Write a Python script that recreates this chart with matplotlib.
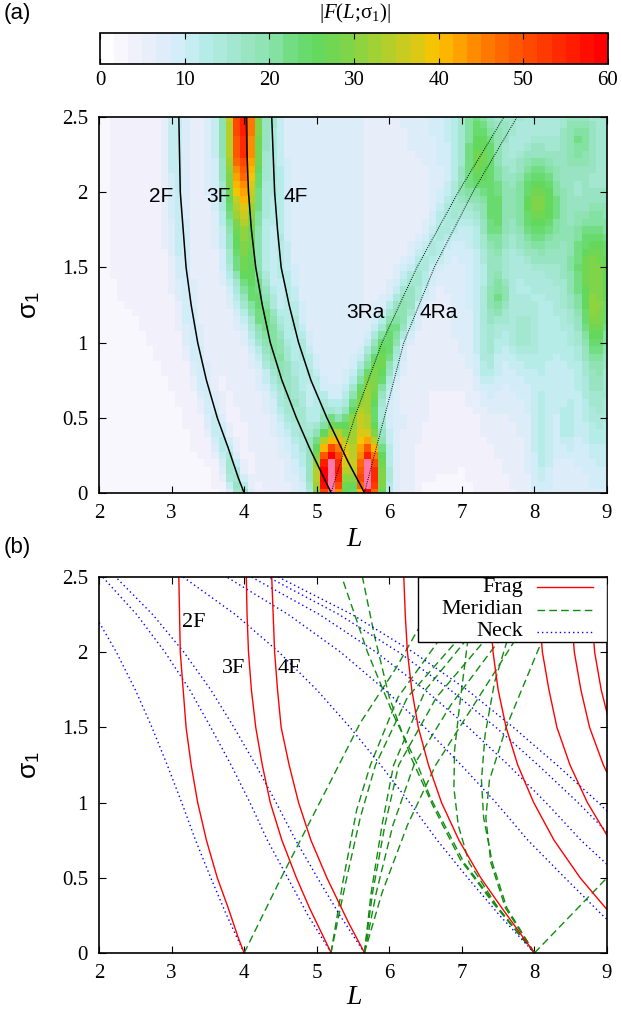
import numpy as np
import matplotlib.pyplot as plt
from matplotlib.colors import LinearSegmentedColormap, ListedColormap
from matplotlib.patches import Rectangle

SERIF = 'Liberation Serif'
SANS = 'Liberation Sans'
plt.rcParams['font.family'] = SERIF
plt.rcParams['mathtext.fontset'] = 'custom'
plt.rcParams['mathtext.rm'] = SERIF
plt.rcParams['mathtext.it'] = SERIF + ':italic'
plt.rcParams['mathtext.sf'] = SANS

# ---------------- orbit length curves L(sigma_1) ----------------
sig_f = [0, 0.1, 0.2, 0.3, 0.5, 0.75, 1.0, 1.25, 1.5, 1.75, 2.0, 2.25, 2.5]
frag_2F = [4.00, 3.92, 3.85, 3.78, 3.63, 3.48, 3.36, 3.27, 3.20, 3.16, 3.12, 3.11, 3.10]
frag_3F = [5.20, 5.10, 5.00, 4.90, 4.72, 4.52, 4.36, 4.25, 4.16, 4.10, 4.06, 4.04, 4.03]
frag_4F = [5.66, 5.55, 5.44, 5.34, 5.14, 4.92, 4.75, 4.62, 4.51, 4.46, 4.42, 4.40, 4.38]
frag_8 = [8.00, 7.85, 7.70, 7.55, 7.26, 6.96, 6.72, 6.54, 6.40, 6.31, 6.25, 6.22, 6.20]
frag_95 = [9.51, 9.33, 9.15, 8.98, 8.63, 8.27, 7.99, 7.77, 7.61, 7.50, 7.43, 7.39, 7.37]
frag_104 = [10.39, 10.19, 10.00, 9.81, 9.43, 9.04, 8.73, 8.49, 8.31, 8.20, 8.11, 8.07, 8.05]
frag_110 = [10.95, 10.74, 10.53, 10.34, 9.94, 9.53, 9.20, 8.95, 8.76, 8.64, 8.55, 8.51, 8.49]
frag_113 = [11.31, 11.10, 10.88, 10.68, 10.27, 9.84, 9.50, 9.24, 9.05, 8.92, 8.83, 8.79, 8.77]

sig_n = [0, 0.25, 0.5, 0.75, 1.0, 1.25, 1.5, 1.75, 2.0, 2.25, 2.5]
neck_4 = [4.00, 3.76, 3.54, 3.33, 3.14, 2.94, 2.73, 2.50, 2.24, 1.94, 1.58]
neck_52 = [5.20, 4.88, 4.60, 4.32, 4.08, 3.82, 3.54, 3.25, 2.91, 2.52, 2.05]
neck_57 = [5.66, 5.32, 5.01, 4.71, 4.44, 4.16, 3.86, 3.54, 3.17, 2.74, 2.23]
neck_8 = [8.00, 7.52, 7.08, 6.66, 6.28, 5.88, 5.46, 5.00, 4.48, 3.88, 3.16]
neck_95 = [9.51, 8.94, 8.42, 7.91, 7.47, 6.99, 6.49, 5.94, 5.33, 4.61, 3.76]
neck_104 = [10.39, 9.77, 9.20, 8.64, 8.16, 7.64, 7.09, 6.49, 5.82, 5.04, 4.10]
neck_110 = [10.95, 10.29, 9.69, 9.11, 8.60, 8.05, 7.47, 6.84, 6.13, 5.31, 4.33]
neck_113 = [11.31, 10.63, 10.01, 9.41, 8.88, 8.31, 7.71, 7.07, 6.33, 5.49, 4.47]

# meridian branches: (L values, sigma values)
meridian = [
    ([4.0, 4.51, 5.2, 5.6, 6.1, 6.43, 6.75], [0, 0.5, 1.15, 1.53, 1.9, 2.18, 2.5]),
    ([5.196, 5.40, 5.60, 5.81, 6.25, 6.92, 7.5], [0, 0.47, 0.9, 1.25, 1.7, 2.07, 2.35]),
    ([5.196, 5.36, 5.55, 5.74, 6.12, 6.67, 7.2], [0, 0.47, 0.95, 1.25, 1.7, 2.07, 2.4]),
    ([5.657, 5.75, 5.9, 6.06, 6.5, 7.04, 7.6], [0, 0.4, 0.85, 1.25, 1.75, 2.07, 2.5]),
    ([5.657, 5.77, 5.94, 6.13, 6.65, 7.3, 7.9], [0, 0.4, 0.85, 1.25, 1.7, 2.07, 2.5]),
    ([5.657, 5.82, 6.05, 6.34, 6.85, 7.5, 8.1], [0, 0.4, 0.85, 1.25, 1.65, 2.07, 2.5]),
    ([5.657, 5.9, 6.25, 6.64, 7.1, 7.72, 8.4], [0, 0.4, 0.85, 1.25, 1.6, 2.07, 2.5]),
    ([8.0, 7.62, 7.42, 7.3, 7.27, 7.32, 7.45, 7.62, 7.95], [0, 0.3, 0.6, 0.9, 1.15, 1.45, 1.8, 2.07, 2.5]),
    ([8.0, 7.6, 7.4, 7.33, 7.38, 7.61, 8.09, 8.5], [0, 0.3, 0.6, 0.9, 1.15, 1.5, 2.06, 2.5]),
    ([8.0, 7.5, 7.1, 6.95, 6.89, 6.9, 6.97, 7.08, 7.3], [0, 0.3, 0.6, 0.85, 1.1, 1.35, 1.65, 2.07, 2.5]),
    ([8.0, 7.5, 7.03, 6.57, 6.39, 6.06, 5.7, 5.36], [0, 0.3, 0.6, 1.03, 1.25, 1.58, 2.0, 2.48]),
    ([8.0, 7.45, 6.98, 6.6, 6.3, 6.0, 5.8, 5.63], [0, 0.32, 0.62, 0.98, 1.3, 1.7, 2.1, 2.5]),
    ([8.0, 9.0], [0, 0.5]),
]

# repetition orbits (top panel, dotted)
sig_r = [0, 0.5, 1.0, 1.5, 2.0, 2.5]
ra_3 = [5.196, 5.52, 5.90, 6.38, 6.95, 7.58]
ra_4 = [5.657, 5.93, 6.20, 6.62, 7.15, 7.76]

# ---------------- |F(L; sigma_1)| map ----------------
bg_L = [2, 2.5, 3, 3.5, 4, 4.5, 5, 5.5, 6, 6.5, 7, 7.5, 8, 8.5, 9]
bg_s = [0, 0.5, 1.0, 1.5, 2.0, 2.5]
bg_val = [
    [2, 2, 3, 3, 4, 6, 8, 9, 8, 3, 3, 4, 6, 7, 8],
    [2, 2, 3, 4, 5, 7, 7, 8, 8, 5, 4, 6, 8, 9, 12],
    [3, 3, 4, 5, 6, 8, 8, 7, 5, 5, 7, 10, 11, 13, 15],
    [3, 4, 5, 5, 6, 8, 8, 7, 6, 5, 8, 12, 13, 15, 17],
    [3, 4, 5, 6, 7, 8, 8, 7, 6, 6, 10, 13, 14, 14, 16],
    [3, 4, 5, 6, 7, 8, 8, 7, 6, 8, 12, 12, 13, 13, 15],
]

# strong ridge near the 3F branch
r3_s = [0, 0.4, 0.84, 1.25, 1.5, 2.0, 2.5]
r3_L = [5.10, 4.80, 4.50, 4.18, 4.02, 3.98, 3.98]
amp_s = [0, 0.25, 0.5, 0.75, 1.0, 1.25, 1.5, 1.75, 2.0, 2.25, 2.5]
r3_amp = [6, 7, 9, 11, 14, 17, 21, 25, 36, 47, 50]
r2_amp = [15, 10, 6, 5, 5, 5, 5, 6, 6, 7, 7]
r4_amp = [4, 4, 4, 5, 5, 5, 5, 5, 5, 5, 5]
ra_amp = [0, 12, 22, 23, 20, 14, 9, 7, 6, 5, 4]

blob_L = [5.19, 5.72, 7.20, 8.05, 7.45, 8.60, 8.80, 7.50, 7.35, 7.85, 8.85, 8.85, 8.45, 8.10]
blob_s = [0.12, 0.12, 2.35, 1.92, 1.85, 2.35, 1.50, 1.30, 0.95, 1.05, 0.80, 1.15, 0.45, 0.30]
blob_amp = [56, 56, 12, 15, 11, 8, 12, 9, 7, 5, 5, 8, 5, 5]
blob_wL = [0.13, 0.13, 0.15, 0.22, 0.12, 0.15, 0.22, 0.12, 0.1, 0.15, 0.12, 0.12, 0.08, 0.1]
blob_ws = [0.2, 0.2, 0.3, 0.22, 0.25, 0.15, 0.25, 0.12, 0.2, 0.15, 0.35, 0.15, 0.12, 0.3]

Lc = np.arange(2.0, 9.0001, 0.1)
sc = np.arange(0.0, 2.5001, 0.05)
LL, SS = np.meshgrid(Lc, sc)

rows = np.array([np.interp(Lc, bg_L, r) for r in bg_val])
field = np.array([np.interp(sc, bg_s, rows[:, j]) for j in range(len(Lc))]).T


def ridge(cen_s, cen_L, amp, width, shift=0.0):
    c = np.interp(sc, cen_s, cen_L)[:, None] + shift
    a = np.interp(sc, amp_s, amp)[:, None]
    return a * np.exp(-0.5 * ((LL - c) / width) ** 2)


field = field + ridge(r3_s, r3_L, r3_amp, 0.17)
field = field + ridge(sig_f, frag_2F, r2_amp, 0.09, -0.05)
field = field + ridge(sig_f, frag_4F, r4_amp, 0.07, 0.03)
field = field + ridge(sig_r, ra_3, ra_amp, 0.16, 0.06)
for bl, bs, ba, wl, ws in zip(blob_L, blob_s, blob_amp, blob_wL, blob_ws):
    field = field + ba * np.exp(-0.5 * (((LL - bl) / wl) ** 2 + ((SS - bs) / ws) ** 2))

# palette
stops = [(0, '#ffffff'), (3, '#f3f1fc'), (6, '#e3ecfa'), (9, '#cfeef7'), (12, '#b6ece8'),
         (16, '#a0e6cc'), (20, '#88e2aa'), (23, '#6cdc78'), (26, '#64d85a'), (30, '#86d446'),
         (34, '#b0d02c'), (38, '#e0c814'), (40, '#fcc400'), (43, '#ffa000'), (47, '#ff7000'),
         (51, '#ff4c00'), (56, '#ff2200'), (60, '#ff0000')]
base = LinearSegmentedColormap.from_list('fpal', [(v / 60, c) for v, c in stops])
cmap = ListedColormap(base(np.linspace(0, 1, 36)))
cmap.set_over('#ff78a8')

fig = plt.figure(figsize=(6.22, 10.15), dpi=100)
W, H = 622, 1015


def box(x0, y0, x1, y1):
    return [x0 / W, 1 - y1 / H, (x1 - x0) / W, (y1 - y0) / H]


def style_axes(ax):
    ax.set_xlim(2, 9)
    ax.set_ylim(0, 2.5)
    ax.set_xticks(range(2, 10))
    ax.set_yticks([0, 0.5, 1, 1.5, 2, 2.5])
    ax.set_yticklabels(['0', '0.5', '1', '1.5', '2', '2.5'])
    ax.tick_params(direction='in', top=True, right=True, length=5, width=0.8,
                   labelsize=15, pad=8)
    for sp in ax.spines.values():
        sp.set_linewidth(1.2)


# ---------------- panel (a) ----------------
ax1 = fig.add_axes(box(99, 117, 607, 493))
im = ax1.imshow(field, origin='lower', extent=[1.95, 9.05, -0.025, 2.525], aspect='auto',
                cmap=cmap, vmin=0, vmax=60, interpolation='nearest')
for curve in (frag_2F, frag_3F, frag_4F):
    ax1.plot(curve, sig_f, color='black', lw=1.1)
for curve in (ra_3, ra_4):
    ax1.plot(curve, sig_r, color='black', lw=0.7, ls=(0, (1, 1.3)))
style_axes(ax1)

for txt, x, y in [('2F', 2.86, 1.97), ('3F', 3.64, 1.97), ('4F', 4.71, 1.97),
                  ('3Ra', 5.67, 1.20), ('4Ra', 6.68, 1.20)]:
    ax1.text(x, y, txt, fontsize=15, family=SANS, ha='center', va='center')

cax = fig.add_axes(box(100, 33, 608, 64))
cb = fig.colorbar(im, cax=cax, orientation='horizontal', ticks=range(0, 61, 10))
cb.outline.set_linewidth(1.2)
cax.tick_params(direction='in', top=True, bottom=True, length=4, width=0.8,
                labelsize=15, pad=5)
fig.text(355 / W, 1 - 13 / H, r'|$F$($L$;σ$_1$)|', fontsize=15,
         ha='center', va='center')

fig.text(17 / W, 1 - 13 / H, '(a)', family=SANS, fontsize=16, ha='center', va='center')
fig.text(30 / W, 1 - 305 / H, r'σ$_\mathsf{1}$', family=SANS, fontsize=19,
         rotation=90, ha='center', va='center')
fig.text(354 / W, 1 - 540 / H, r'$L$', fontsize=20, ha='center', va='center')

# ---------------- panel (b) ----------------
ax2 = fig.add_axes(box(99, 577, 607, 953))
green = '#108c10'
for Lm, sm in meridian:
    ax2.plot(Lm, sm, color=green, lw=1.0, ls=(0, (5.5, 3)))
for curve in (neck_4, neck_52, neck_57, neck_8, neck_95, neck_104, neck_110, neck_113):
    ax2.plot(curve, sig_n, color='#0000ff', lw=1.0, ls=(0, (1, 2.2)))
for curve in (frag_2F, frag_3F, frag_4F, frag_8, frag_95, frag_104, frag_110, frag_113):
    ax2.plot(curve, sig_f, color='#ff0000', lw=1.0)
style_axes(ax2)

for txt, x, y in [('2F', 3.31, 2.20), ('3F', 3.85, 1.89), ('4F', 4.62, 1.89)]:
    ax2.text(x, y, txt, fontsize=16, ha='center', va='center')

# legend box
ax2.add_patch(Rectangle((0.628, 0.827), 0.372, 0.173, transform=ax2.transAxes,
                        facecolor='white', edgecolor='black', lw=1.0, zorder=5))
for i, (name, col, ls) in enumerate([('Frag', '#ff0000', '-'),
                                     ('Meridian', green, (0, (5.5, 3))),
                                     ('Neck', '#0000ff', (0, (1, 2.2)))]):
    yy = 0.973 - i * 0.0595
    ax2.text(0.835, yy, name, transform=ax2.transAxes, fontsize=16,
             ha='right', va='center', zorder=6)
    ax2.plot([0.862, 0.972], [yy, yy], transform=ax2.transAxes, color=col, lw=1.0,
             ls=ls, zorder=6)

fig.text(17 / W, 1 - 548 / H, '(b)', family=SANS, fontsize=16, ha='center', va='center')
fig.text(30 / W, 1 - 765 / H, r'σ$_\mathsf{1}$', family=SANS, fontsize=19,
         rotation=90, ha='center', va='center')
fig.text(354 / W, 1 - 997 / H, r'$L$', fontsize=20, ha='center', va='center')

fig.savefig('out.png', dpi=100)
